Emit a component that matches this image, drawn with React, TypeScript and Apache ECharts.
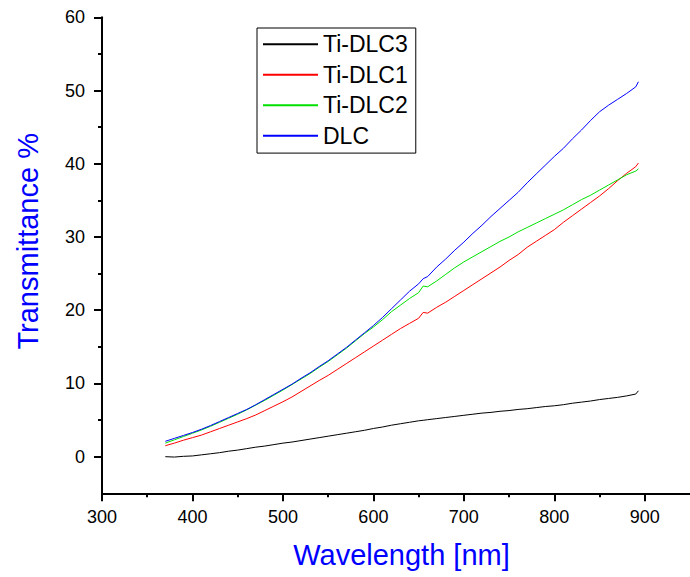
import React, { useEffect, useRef } from "react";
import * as echarts from "echarts";

const wavelengths = [
  370, 380, 390, 400, 410, 420, 430, 440, 450, 460, 470, 480, 490, 500, 510, 520, 530, 540, 550,
  560, 570, 580, 590, 600, 610, 620, 630, 640, 650, 655, 660, 670, 680, 690, 700, 710, 720, 730,
  740, 750, 760, 770, 780, 790, 800, 810, 820, 830, 840, 850, 860, 870, 880, 890, 893,
];

const tiDLC3 = [
  0.0, -0.05, 0.05, 0.1, 0.25, 0.4, 0.55, 0.75, 0.9, 1.1, 1.3, 1.45, 1.65, 1.85, 2.0, 2.2, 2.4, 2.6,
  2.8, 3.0, 3.2, 3.4, 3.6, 3.85, 4.05, 4.3, 4.5, 4.7, 4.9, 4.97, 5.05, 5.2, 5.35, 5.5, 5.65, 5.8,
  5.95, 6.05, 6.2, 6.3, 6.45, 6.55, 6.7, 6.85, 6.95, 7.1, 7.3, 7.45, 7.6, 7.8, 7.95, 8.1, 8.3, 8.55,
  9.0,
];

const tiDLC1 = [
  1.5, 1.85, 2.25, 2.6, 2.95, 3.4, 3.85, 4.3, 4.75, 5.2, 5.7, 6.3, 6.9, 7.5, 8.15, 8.9, 9.65, 10.4,
  11.1, 11.9, 12.7, 13.5, 14.3, 15.1, 15.9, 16.7, 17.5, 18.2, 18.9, 19.7, 19.6, 20.4, 21.1, 21.9,
  22.7, 23.5, 24.3, 25.1, 25.9, 26.8, 27.6, 28.6, 29.4, 30.2, 31.0, 32.0, 32.9, 33.8, 34.7, 35.6,
  36.6, 37.7, 38.7, 39.6, 40.1,
];

const tiDLC2 = [
  1.85, 2.3, 2.75, 3.2, 3.65, 4.15, 4.7, 5.25, 5.8, 6.4, 7.05, 7.7, 8.4, 9.1, 9.85, 10.6, 11.35,
  12.2, 13.0, 13.9, 14.8, 15.8, 16.8, 17.7, 18.7, 19.8, 20.7, 21.6, 22.4, 23.3, 23.2, 24.0, 24.9,
  25.8, 26.6, 27.3, 28.0, 28.7, 29.4, 30.0, 30.7, 31.3, 31.9, 32.5, 33.1, 33.7, 34.4, 35.1, 35.7,
  36.4, 37.1, 37.8, 38.5, 39.0, 39.3,
];

const dlc = [
  2.1, 2.5, 2.9, 3.3, 3.75, 4.25, 4.8, 5.35, 5.9, 6.45, 7.1, 7.8, 8.5, 9.2, 9.9, 10.7, 11.45, 12.3,
  13.1, 14.0, 14.9, 15.9, 16.9, 17.9, 19.0, 20.2, 21.4, 22.6, 23.6, 24.3, 24.6, 25.9, 27.0, 28.2,
  29.3, 30.5, 31.6, 32.8, 33.9, 35.0, 36.1, 37.4, 38.6, 39.8, 41.0, 42.1, 43.4, 44.6, 45.9, 47.1,
  48.0, 48.8, 49.6, 50.5, 51.2,
];

const seriesNames = ["Ti-DLC3", "Ti-DLC1", "Ti-DLC2", "DLC"];
const seriesValues = [tiDLC3, tiDLC1, tiDLC2, dlc];
const seriesColors = ["#000000", "#ff0000", "#00e000", "#0000ff"];

const xMajorTicks = [300, 400, 500, 600, 700, 800, 900];
const xMinorTicks = [350, 450, 550, 650, 750, 850];
const yMajorTicks = [0, 10, 20, 30, 40, 50, 60];
const yMinorTicks = [5, 15, 25, 35, 45, 55];

const FONT = "'Liberation Sans', Arial, sans-serif";

export default function App() {
  const ref = useRef<HTMLDivElement>(null);

  useEffect(() => {
    if (!ref.current) return;
    const chart = echarts.init(ref.current, null, { renderer: "svg" });
    const gridRect = { left: 102, right: -2, top: 17.3, bottom: 83.7, containLabel: false };
    const axisLineStyle = { color: "#000", width: 2 };

    const option: any = {
      animation: false,
      backgroundColor: "#fff",
      grid: [gridRect, { ...gridRect }],
      legend: {
        data: seriesNames,
        orient: "vertical",
        left: 257,
        top: 28,
        itemWidth: 55,
        itemHeight: 20,
        itemGap: 7.5,
        padding: [4.8, 8, 5.8, 5],
        borderColor: "#000",
        borderWidth: 1,
        itemStyle: { opacity: 0 },
        textStyle: { fontSize: 23, color: "#000", fontFamily: FONT },
      },
      xAxis: [
        {
          gridIndex: 0,
          type: "value",
          min: 300,
          max: 950,
          interval: 100,
          name: "Wavelength [nm]",
          nameLocation: "middle",
          nameGap: 47,
          nameTextStyle: {
            fontSize: 29,
            color: "#0000ff",
            fontFamily: FONT,
            padding: [0, 0, 0, 11],
          },
          axisLine: { show: true, onZero: false, lineStyle: axisLineStyle },
          axisTick: {
            show: true,
            length: 8,
            customValues: xMajorTicks,
            lineStyle: axisLineStyle,
          },
          axisLabel: {
            customValues: xMajorTicks,
            margin: 15,
            fontSize: 18,
            color: "#000",
            fontFamily: FONT,
          },
          splitLine: { show: false },
        },
        {
          gridIndex: 1,
          type: "value",
          min: 300,
          max: 950,
          interval: 50,
          axisLine: { show: false, onZero: false },
          axisTick: {
            show: true,
            length: 4,
            customValues: xMinorTicks,
            lineStyle: axisLineStyle,
          },
          axisLabel: { show: false },
          splitLine: { show: false },
        },
      ],
      yAxis: [
        {
          gridIndex: 0,
          type: "value",
          min: -5,
          max: 60,
          interval: 5,
          name: "Transmittance %",
          nameLocation: "middle",
          nameGap: 60,
          nameTextStyle: {
            fontSize: 29,
            color: "#0000ff",
            fontFamily: FONT,
            padding: [0, 0, 0, 28],
          },
          axisLine: { show: true, onZero: false, lineStyle: axisLineStyle },
          axisTick: {
            show: true,
            length: 8,
            customValues: yMajorTicks,
            lineStyle: axisLineStyle,
          },
          axisLabel: {
            customValues: yMajorTicks,
            margin: 17,
            fontSize: 18,
            color: "#000",
            fontFamily: FONT,
          },
          splitLine: { show: false },
        },
        {
          gridIndex: 1,
          type: "value",
          min: -5,
          max: 60,
          interval: 5,
          axisLine: { show: false, onZero: false },
          axisTick: {
            show: true,
            length: 4,
            customValues: yMinorTicks,
            lineStyle: axisLineStyle,
          },
          axisLabel: { show: false },
          splitLine: { show: false },
        },
      ],
      series: seriesNames.map((name, i) => ({
        name,
        type: "line",
        xAxisIndex: 0,
        yAxisIndex: 0,
        symbol: "none",
        showSymbol: false,
        color: seriesColors[i],
        lineStyle: { color: seriesColors[i], width: 1 },
        data: wavelengths.map((w, j) => [w, seriesValues[i][j]]),
      })),
    };

    chart.setOption(option);
    return () => chart.dispose();
  }, []);

  return (
    <div
      ref={ref}
      style={{ position: "absolute", left: 0, top: 0, width: 690, height: 577 }}
    />
  );
}
